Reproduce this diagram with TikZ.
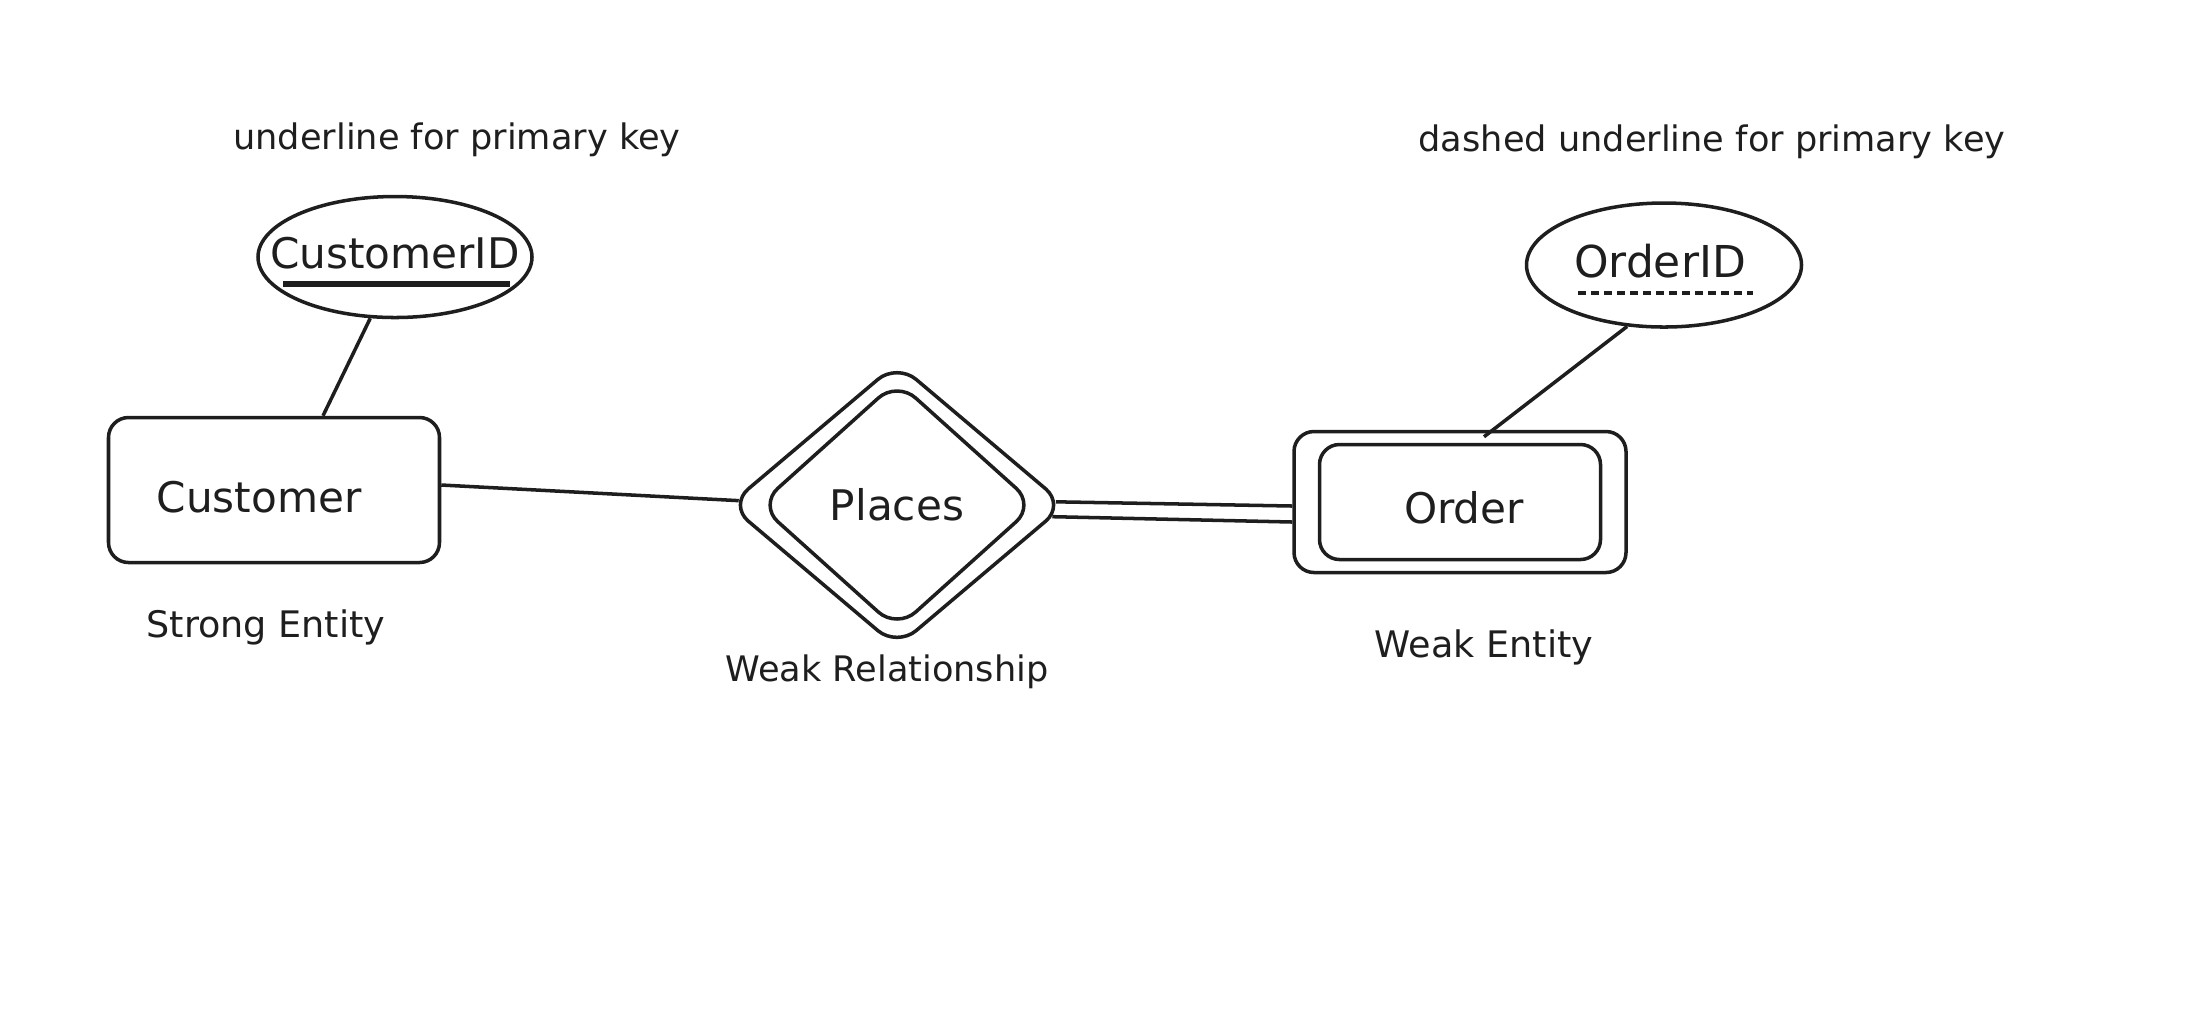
\documentclass[tikz,border=0pt]{standalone}
\usepackage{fontspec}
\setmainfont{DejaVu Sans}
\definecolor{mInk}{HTML}{1E1E1E}
\usepackage{tikz}
\usetikzlibrary{positioning,calc,shapes.geometric}

\begin{document}
\begin{tikzpicture}[x=0.1mm, y=-0.1mm, color=mInk, line width=1pt,
  entity/.style={draw, rectangle, rounded corners=2mm, inner sep=0pt},
  keyattr/.style={draw, ellipse, inner sep=0pt},
  relation/.style={draw, diamond, rounded corners=2.5mm, inner sep=0pt},
  bigtext/.style={font=\fontsize{12}{14}\selectfont},
  note/.style={font=\fontsize{10}{12}\selectfont}]
\useasboundingbox (0,0) rectangle (2198,1014);

\node[note] (pknote) at (457,140) {underline for primary key};
\node[note] (dpknote) at (1712,142) {dashed underline for primary key};

\node[entity, minimum width=33.1mm, minimum height=14.5mm] (cust) at (274,490) {};
\node[bigtext] (custtext) at (259,497) {Customer};
\node[keyattr, minimum width=27.4mm, minimum height=12.1mm] (cid) at (395,257) {};
\node[bigtext] (cidtext) at (395,253) {CustomerID};
\draw[line width=1.6pt] ($(cid)+(-112,27)$) -- ($(cid)+(115,27)$);

\node[relation, minimum width=33.7mm, minimum height=28.5mm, bigtext] (places) at (897,505) {Places};
\node[relation, minimum width=27.7mm, minimum height=24.9mm] (placesin) at (897,505) {};

\node[entity, minimum width=33.2mm, minimum height=14.1mm] (order) at (1460,502) {};
\node[entity, minimum width=28.1mm, minimum height=11.5mm] (orderin) at (1460,502) {};
\node[bigtext] (ordertext) at (1464,508) {Order};
\node[keyattr, minimum width=27.5mm, minimum height=12.4mm] (oid) at (1664,265) {};
\node[bigtext, font=\fontsize{12.5}{14}\selectfont] (oidtext) at (1660,261) {OrderID};
\draw[dash pattern=on 0.8mm off 0.5mm, line width=1pt] ($(oid)+(-86,28)$) -- ($(oid)+(89,28)$);

\node[note, font=\fontsize{10.4}{12}\selectfont] (strongnote) at (266,627) {Strong Entity};
\node[note] (relnote) at (887,672) {Weak Relationship};
\node[note, font=\fontsize{10.4}{12}\selectfont] (weaknote) at (1484,647) {Weak Entity};

\draw (cid.248) -- ([xshift=4.9mm]cust.north);
\draw (oid.239) -- ([xshift=2.4mm, yshift=-0.7mm]order.north);
\draw[shorten >=-1.2mm] ([yshift=0.5mm]cust.east) -- ([yshift=0.5mm]places.west);
\draw[shorten <=-1.15mm] ([yshift=0.3mm]places.east) -- ([yshift=-0.4mm]order.west);
\draw[shorten <=-1.5mm] ([yshift=-1.2mm]places.east) -- ([yshift=-2.0mm]order.west);
\end{tikzpicture}
\end{document}
